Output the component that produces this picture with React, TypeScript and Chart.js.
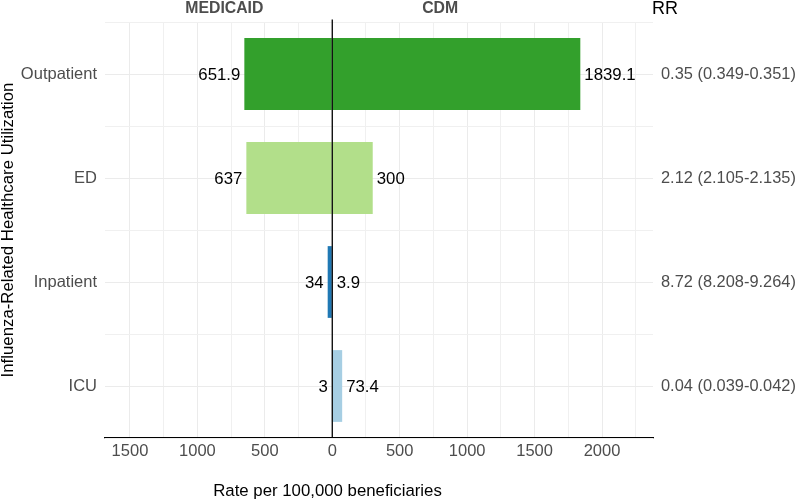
import React, { useEffect, useRef } from "react";
import { Chart, registerables } from "chart.js";

Chart.register(...registerables);

// ---- data ----
const categories = ["Outpatient", "ED", "Inpatient", "ICU"];
const medicaidRates = [651.9, 637, 34, 3];
const cdmRates = [1839.1, 300, 3.9, 73.4];
const rrLabels = [
  "0.35 (0.349-0.351)",
  "2.12 (2.105-2.135)",
  "8.72 (8.208-9.264)",
  "0.04 (0.039-0.042)",
];
const barColors = ["#33a02c", "#b2df8a", "#1f78b4", "#a6cee3"];
const xGridValues = [
  -1500, -1250, -1000, -750, -500, -250, 0, 250, 500, 750, 1000, 1250, 1500,
  1750, 2000, 2250,
];
const xMajorStep = 500;
const X_MIN = -1685;
const X_MAX = 2378;
const headerLeft = "MEDICAID";
const headerRight = "CDM";
const headerLeftAt = -800;
const headerRightAt = 800;
const rrTitle = "RR";
const xTitle = "Rate per 100,000 beneficiaries";
const yTitle = "Influenza-Related Healthcare Utilization";

const FONT = "'Liberation Sans', Arial, Helvetica, sans-serif";
const GREY30 = "#4d4d4d";
const GRID = "#ebebeb";

const overlayPlugin = {
  id: "overlay",
  beforeDatasetsDraw(chart: any) {
    const { ctx, chartArea: a, scales } = chart;
    const y = scales.y;
    ctx.save();
    ctx.strokeStyle = GRID;
    ctx.lineWidth = 1;
    for (let i = 0; i < categories.length; i++) {
      const yc = Math.round(y.getPixelForValue(i)) + 0.5;
      ctx.beginPath();
      ctx.moveTo(a.left, yc);
      ctx.lineTo(a.right, yc);
      ctx.stroke();
    }
    ctx.strokeStyle = "#f0f0f0";
    for (let i = 0; i <= categories.length; i++) {
      const ye = Math.round(y.getPixelForValue(i - 0.5)) + 0.5;
      ctx.beginPath();
      ctx.moveTo(a.left, ye);
      ctx.lineTo(a.right, ye);
      ctx.stroke();
    }
    ctx.restore();
  },
  afterDatasetsDraw(chart: any) {
    const { ctx, chartArea: a, scales } = chart;
    const x = scales.x;
    ctx.save();
    // zero line
    const x0 = x.getPixelForValue(0);
    ctx.strokeStyle = "#000";
    ctx.lineWidth = 1.3;
    ctx.beginPath();
    ctx.moveTo(x0, a.top - 2.5);
    ctx.lineTo(x0, a.bottom);
    ctx.stroke();

    // value labels
    ctx.font = `16.8px ${FONT}`;
    ctx.fillStyle = "#000";
    ctx.textBaseline = "middle";
    const leftMeta = chart.getDatasetMeta(0);
    const rightMeta = chart.getDatasetMeta(1);
    leftMeta.data.forEach((el: any, i: number) => {
      ctx.textAlign = "right";
      ctx.fillText(String(medicaidRates[i]), el.x - 4, el.y + 1);
    });
    rightMeta.data.forEach((el: any, i: number) => {
      ctx.textAlign = "left";
      ctx.fillText(String(cdmRates[i]), el.x + 4, el.y + 1);
    });

    // headers
    ctx.textBaseline = "alphabetic";
    ctx.textAlign = "center";
    ctx.font = `bold 15.8px ${FONT}`;
    ctx.fillStyle = GREY30;
    ctx.fillText(headerLeft, x.getPixelForValue(headerLeftAt), 13);
    ctx.fillText(headerRight, x.getPixelForValue(headerRightAt), 13);
    ctx.font = `18px ${FONT}`;
    ctx.fillStyle = "#000";
    ctx.fillText(rrTitle, a.right + 12, 14);

    // axis titles
    ctx.font = `16.8px ${FONT}`;
    ctx.fillStyle = "#000";
    ctx.textAlign = "center";
    ctx.fillText(xTitle, 327.5, 496);
    ctx.translate(12.5, (a.top + a.bottom) / 2);
    ctx.rotate(-Math.PI / 2);
    ctx.fillText(yTitle, 0, 0);
    ctx.restore();
  },
};

export default function App() {
  const ref = useRef<HTMLCanvasElement>(null);
  useEffect(() => {
    if (!ref.current) return;
    Chart.defaults.font.family = FONT;
    const chart = new Chart(ref.current, {
      type: "bar",
      data: {
        labels: categories,
        datasets: [
          {
            label: "MEDICAID",
            data: medicaidRates.map((v) => -v),
            backgroundColor: barColors,
            borderWidth: 0,
            barPercentage: 0.69,
            categoryPercentage: 1,
          },
          {
            label: "CDM",
            data: cdmRates,
            backgroundColor: barColors,
            borderWidth: 0,
            barPercentage: 0.69,
            categoryPercentage: 1,
          },
        ],
      },
      options: {
        responsive: false,
        animation: false,
        indexAxis: "y",
        layout: { padding: { top: 22, left: 0, right: 0, bottom: 0 } },
        plugins: {
          legend: { display: false },
          tooltip: { enabled: false },
        },
        scales: {
          x: {
            type: "linear",
            min: X_MIN,
            max: X_MAX,
            stacked: true,
            afterBuildTicks: (s: any) => {
              s.ticks = xGridValues.map((v) => ({ value: v }));
            },
            afterFit: (s: any) => {
              s.height = 62;
            },
            grid: {
              color: (c: any) =>
                c.tick && c.tick.value % xMajorStep === 0 ? GRID : "#f0f0f0",
              lineWidth: 1,
              drawTicks: false,
            },
            border: { display: true, color: "#000", width: 1.2 },
            ticks: {
              autoSkip: false,
              maxRotation: 0,
              padding: 4,
              color: GREY30,
              font: { size: 16.5, family: FONT },
              callback: (v: any) =>
                Number(v) % xMajorStep === 0 ? String(Math.abs(Number(v))) : "",
            },
          },
          y: {
            type: "category",
            stacked: true,
            offset: true,
            grid: { display: false, drawTicks: false },
            border: { display: false },
            ticks: {
              padding: 8,
              color: GREY30,
              font: { size: 16.5, family: FONT },
            },
            afterFit: (s: any) => {
              s.width = 105;
            },
          },
          y2: {
            type: "category",
            position: "right",
            labels: rrLabels,
            offset: true,
            grid: { display: false, drawTicks: false },
            border: { display: false },
            ticks: {
              padding: 8,
              color: GREY30,
              font: { size: 16.4, family: FONT },
            },
            afterFit: (s: any) => {
              s.width = 147;
            },
          },
        },
      } as any,
      plugins: [overlayPlugin],
    });
    return () => chart.destroy();
  }, []);
  return (
    <div
      style={{
        position: "fixed",
        left: 0,
        top: 0,
        width: 800,
        height: 500,
        background: "#fff",
      }}
    >
      <canvas
        ref={ref}
        width={800}
        height={500}
        style={{ display: "block", width: 800, height: 500 }}
      />
    </div>
  );
}
